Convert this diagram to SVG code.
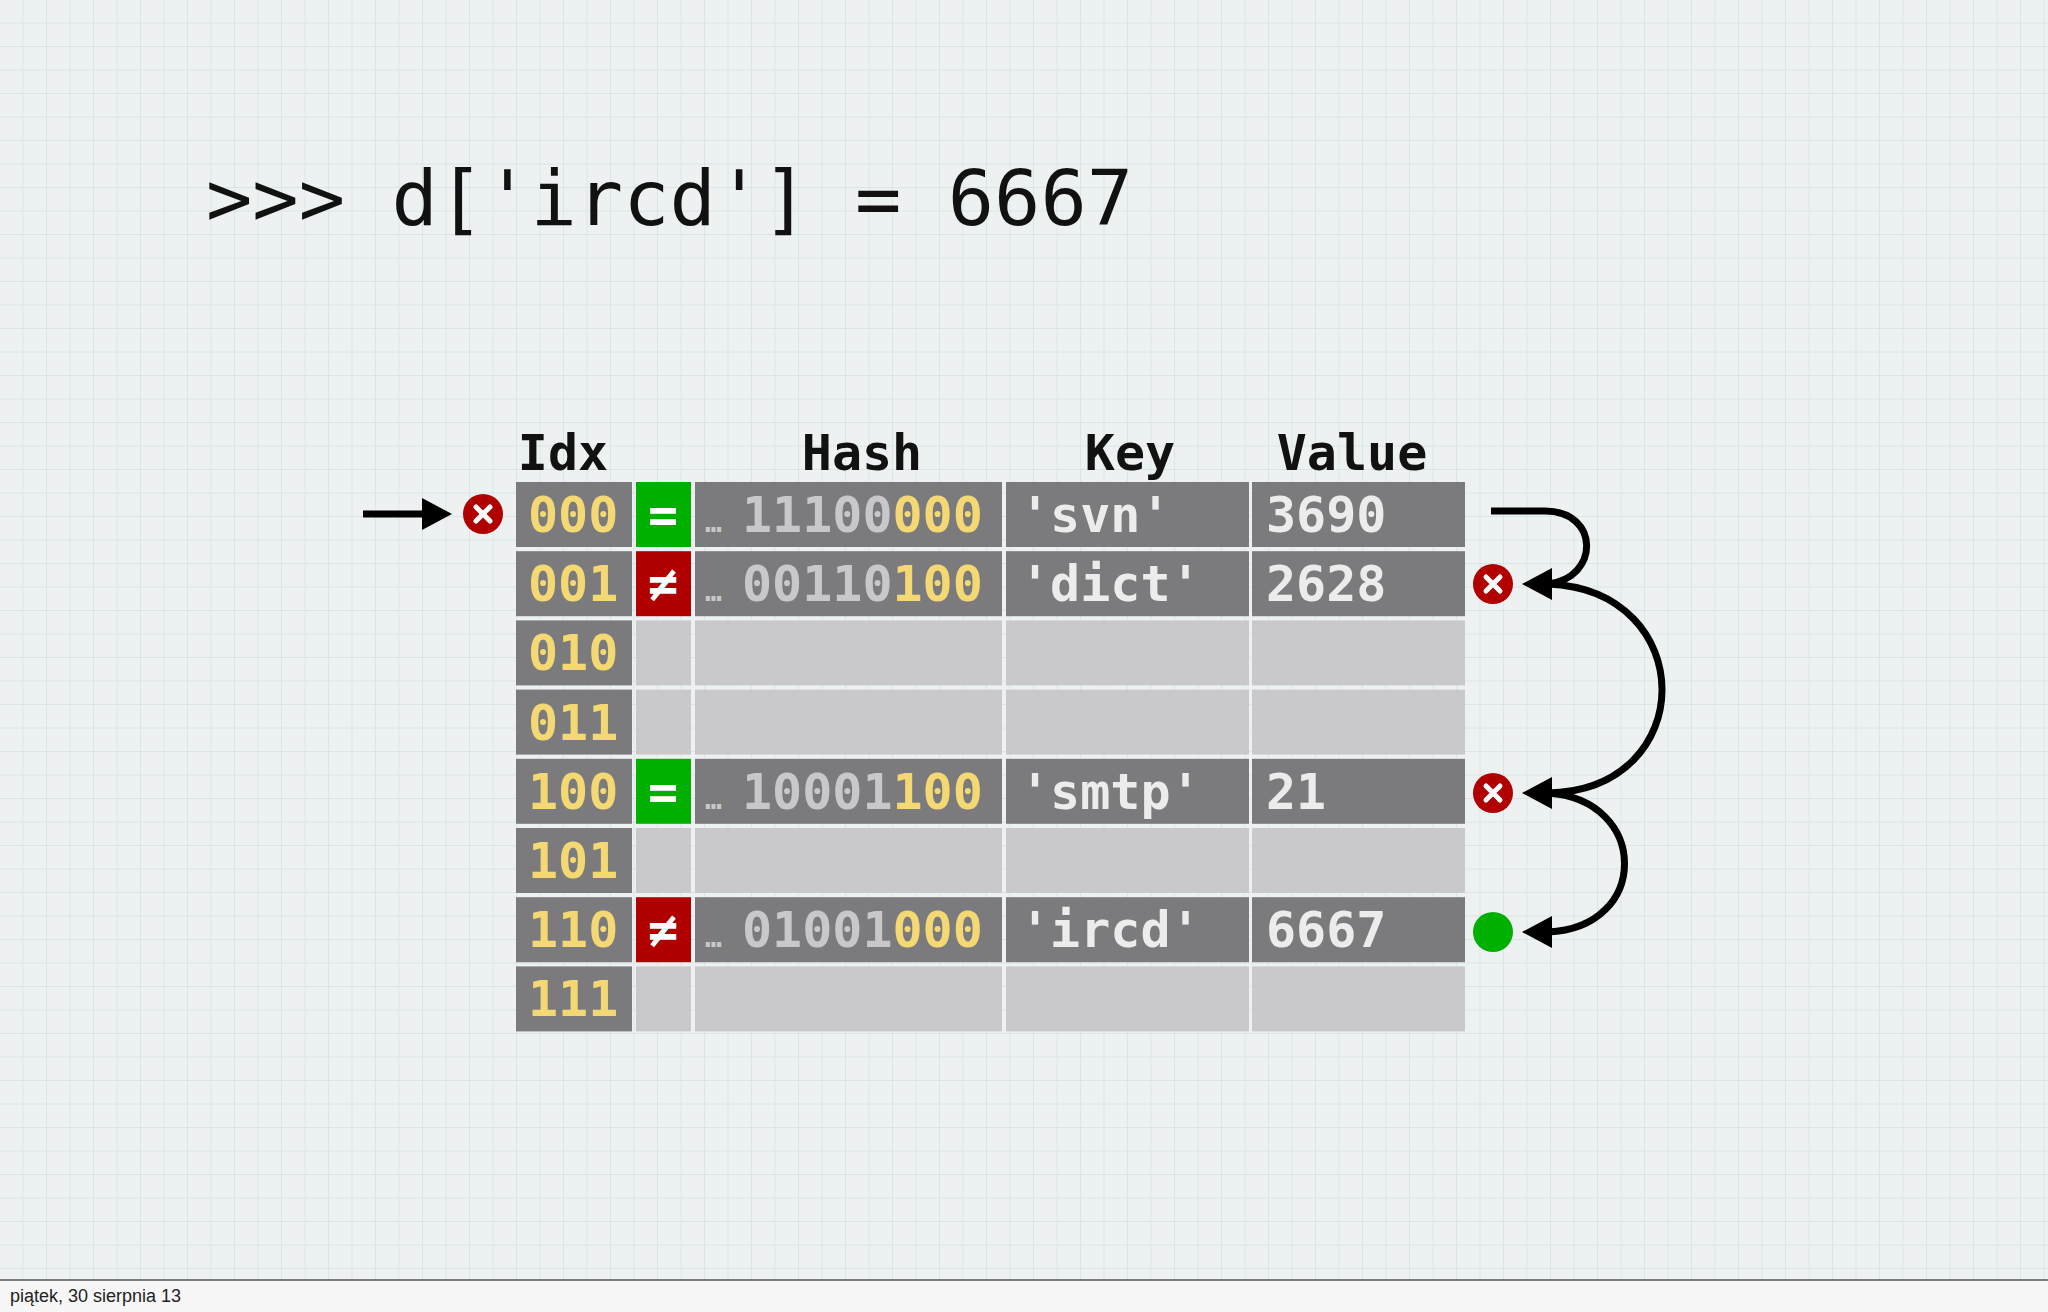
<svg xmlns="http://www.w3.org/2000/svg" width="2048" height="1312" viewBox="0 0 2048 1312">
<defs>
<pattern id="grid" width="23.5" height="23.5" patternUnits="userSpaceOnUse">
<path d="M23.5 0V23.5M0 23.5H23.5" stroke="#d3e2e2" stroke-width="1.4" fill="none"/>
</pattern>
<style>
.mono{font-family:"DejaVu Sans Mono","Liberation Mono",monospace;font-weight:bold;font-size:50px}
.dk{fill:#7b7b7d}.lt{fill:#c9c9cb}
.idx{fill:#f3d873}.hs{fill:#c8c8ca}.kv{fill:#ececec}.y{fill:#f3d873}
.hdr{font-family:"DejaVu Sans Mono","Liberation Mono",monospace;font-size:50px;fill:#111;text-anchor:middle;font-weight:bold}
.conn{fill:none;stroke:#000;stroke-width:7}
.bad{fill:#b00000}.badx{stroke:#fff;stroke-width:5;stroke-linecap:round}
</style>
</defs>
<rect width="2048" height="1312" fill="#eef1f1"/>
<rect width="2048" height="1280" fill="url(#grid)"/>
<rect y="1280" width="2048" height="32" fill="#f7f7f7"/>
<line x1="0" y1="1280" x2="2048" y2="1280" stroke="#555" stroke-width="1.5"/>
<text x="10" y="1302" font-family="Liberation Sans, Arial, sans-serif" font-size="18" fill="#222">piątek, 30 sierpnia 13</text>
<text x="206" y="225" font-family="DejaVu Sans Mono, Liberation Mono, monospace" font-size="77" fill="#111">&gt;&gt;&gt; d['ircd'] = 6667</text>

<g id="headers">
<text class="hdr" x="563" y="470">Idx</text>
<text class="hdr" x="862" y="470">Hash</text>
<text class="hdr" x="1130" y="470">Key</text>
<text class="hdr" x="1352" y="470">Value</text>
</g>

<g id="table" class="mono">
<g id="r000">
<rect class="dk" x="516" y="482" width="116" height="65"/>
<rect fill="#00b000" x="636" y="482" width="55" height="65"/>
<rect class="dk" x="695" y="482" width="307" height="65"/>
<rect class="dk" x="1006" y="482" width="243" height="65"/>
<rect class="dk" x="1252" y="482" width="213" height="65"/>
<text class="idx" x="528" y="532">000</text>
<text fill="#fff" x="663" y="532" text-anchor="middle">=</text>
<text class="hs"><tspan x="705" y="532" font-size="28">…</tspan><tspan x="742" y="532">11100</tspan><tspan class="y">000</tspan></text>
<text class="kv" x="1020" y="532">'svn'</text>
<text class="kv" x="1266" y="532">3690</text>
</g>
<g id="r001">
<rect class="dk" x="516" y="551.2" width="116" height="65"/>
<rect fill="#b00000" x="636" y="551.2" width="55" height="65"/>
<rect class="dk" x="695" y="551.2" width="307" height="65"/>
<rect class="dk" x="1006" y="551.2" width="243" height="65"/>
<rect class="dk" x="1252" y="551.2" width="213" height="65"/>
<text class="idx" x="528" y="601.2">001</text>
<text fill="#fff" x="663" y="601.2" text-anchor="middle">≠</text>
<text class="hs"><tspan x="705" y="601.2" font-size="28">…</tspan><tspan x="742" y="601.2">00110</tspan><tspan class="y">100</tspan></text>
<text class="kv" x="1020" y="601.2">'dict'</text>
<text class="kv" x="1266" y="601.2">2628</text>
</g>
<g id="r010">
<rect class="dk" x="516" y="620.4" width="116" height="65"/>
<rect class="lt" x="636" y="620.4" width="55" height="65"/>
<rect class="lt" x="695" y="620.4" width="307" height="65"/>
<rect class="lt" x="1006" y="620.4" width="243" height="65"/>
<rect class="lt" x="1252" y="620.4" width="213" height="65"/>
<text class="idx" x="528" y="670.4">010</text>
</g>
<g id="r011">
<rect class="dk" x="516" y="689.6" width="116" height="65"/>
<rect class="lt" x="636" y="689.6" width="55" height="65"/>
<rect class="lt" x="695" y="689.6" width="307" height="65"/>
<rect class="lt" x="1006" y="689.6" width="243" height="65"/>
<rect class="lt" x="1252" y="689.6" width="213" height="65"/>
<text class="idx" x="528" y="739.6">011</text>
</g>
<g id="r100">
<rect class="dk" x="516" y="758.8" width="116" height="65"/>
<rect fill="#00b000" x="636" y="758.8" width="55" height="65"/>
<rect class="dk" x="695" y="758.8" width="307" height="65"/>
<rect class="dk" x="1006" y="758.8" width="243" height="65"/>
<rect class="dk" x="1252" y="758.8" width="213" height="65"/>
<text class="idx" x="528" y="808.8">100</text>
<text fill="#fff" x="663" y="808.8" text-anchor="middle">=</text>
<text class="hs"><tspan x="705" y="808.8" font-size="28">…</tspan><tspan x="742" y="808.8">10001</tspan><tspan class="y">100</tspan></text>
<text class="kv" x="1020" y="808.8">'smtp'</text>
<text class="kv" x="1266" y="808.8">21</text>
</g>
<g id="r101">
<rect class="dk" x="516" y="828" width="116" height="65"/>
<rect class="lt" x="636" y="828" width="55" height="65"/>
<rect class="lt" x="695" y="828" width="307" height="65"/>
<rect class="lt" x="1006" y="828" width="243" height="65"/>
<rect class="lt" x="1252" y="828" width="213" height="65"/>
<text class="idx" x="528" y="878">101</text>
</g>
<g id="r110">
<rect class="dk" x="516" y="897.2" width="116" height="65"/>
<rect fill="#b00000" x="636" y="897.2" width="55" height="65"/>
<rect class="dk" x="695" y="897.2" width="307" height="65"/>
<rect class="dk" x="1006" y="897.2" width="243" height="65"/>
<rect class="dk" x="1252" y="897.2" width="213" height="65"/>
<text class="idx" x="528" y="947.2">110</text>
<text fill="#fff" x="663" y="947.2" text-anchor="middle">≠</text>
<text class="hs"><tspan x="705" y="947.2" font-size="28">…</tspan><tspan x="742" y="947.2">01001</tspan><tspan class="y">000</tspan></text>
<text class="kv" x="1020" y="947.2">'ircd'</text>
<text class="kv" x="1266" y="947.2">6667</text>
</g>
<g id="r111">
<rect class="dk" x="516" y="966.4" width="116" height="65"/>
<rect class="lt" x="636" y="966.4" width="55" height="65"/>
<rect class="lt" x="695" y="966.4" width="307" height="65"/>
<rect class="lt" x="1006" y="966.4" width="243" height="65"/>
<rect class="lt" x="1252" y="966.4" width="213" height="65"/>
<text class="idx" x="528" y="1016.4">111</text>
</g>
</g>

<g id="markers">
<g id="m0"><circle class="bad" cx="483" cy="514" r="20"/><path class="badx" d="M476 507L490 521M490 507L476 521"/></g>
<g id="m1"><circle class="bad" cx="1493" cy="584" r="20"/><path class="badx" d="M1486 577L1500 591M1500 577L1486 591"/></g>
<g id="m2"><circle class="bad" cx="1493" cy="793" r="20"/><path class="badx" d="M1486 786L1500 800M1500 786L1486 800"/></g>
<g id="m3"><circle fill="#00b000" cx="1493" cy="932" r="20"/></g>
</g>

<g id="connectors">
<path class="conn" d="M363 514H425"/>
<polygon points="452,514 422,498 422,530"/>
<path class="conn" d="M1491 511H1545C1600 511 1600 578 1548 584"/>
<polygon points="1522,584 1552,568 1552,600"/>
<path class="conn" d="M1548 584C1700 590 1700 790 1548 793"/>
<polygon points="1522,793 1552,777 1552,809"/>
<path class="conn" d="M1548 793C1650 800 1650 928 1548 932"/>
<polygon points="1522,932 1552,916 1552,948"/>
</g>
</svg>
